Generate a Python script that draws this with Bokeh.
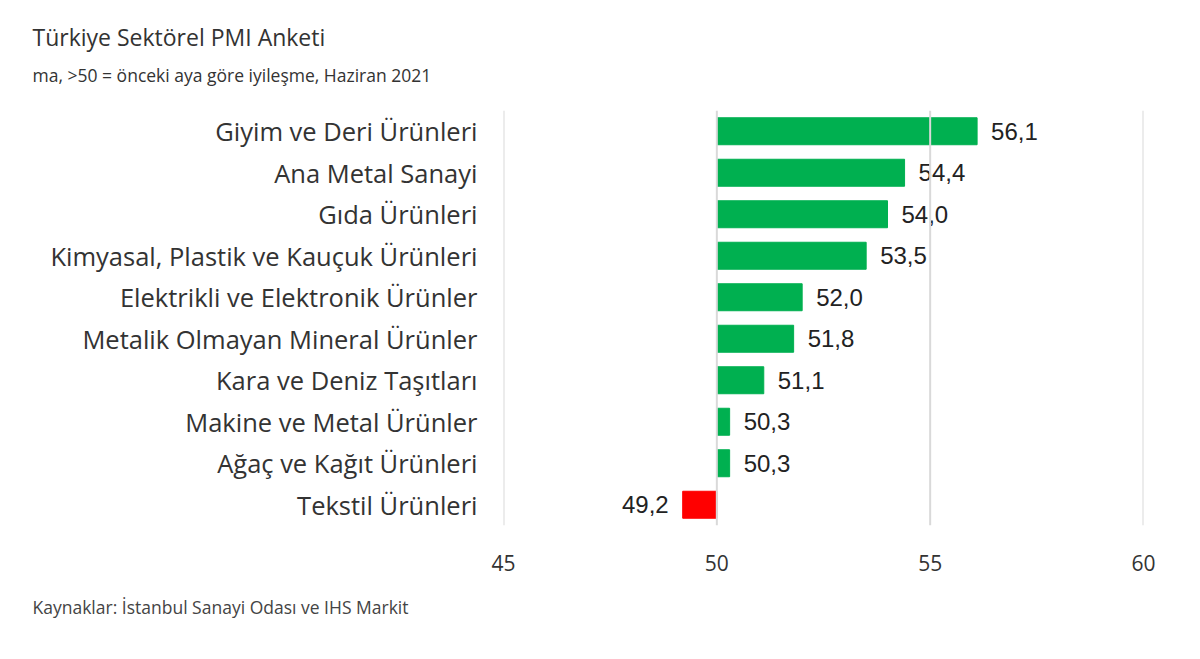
from bokeh.plotting import figure
from bokeh.models import ColumnDataSource, FixedTicker, Title, FactorRange, Range1d, Span
from bokeh.core.properties import value
from bokeh.embed import file_html
from bokeh.resources import INLINE

categories = [
    "Giyim ve Deri Ürünleri",
    "Ana Metal Sanayi",
    "Gıda Ürünleri",
    "Kimyasal, Plastik ve Kauçuk Ürünleri",
    "Elektrikli ve Elektronik Ürünler",
    "Metalik Olmayan Mineral Ürünler",
    "Kara ve Deniz Taşıtları",
    "Makine ve Metal Ürünler",
    "Ağaç ve Kağıt Ürünleri",
    "Tekstil Ürünleri",
]
values = [56.1, 54.4, 54.0, 53.5, 52.0, 51.8, 51.1, 50.3, 50.3, 49.2]
x_ticks = [45, 50, 55, 60]
baseline = 50

title = "Türkiye Sektörel PMI Anketi"
subtitle = "ma, >50 = önceki aya göre iyileşme, Haziran 2021"
source_note = "Kaynaklar: İstanbul Sanayi Odası ve IHS Markit"

colors = ["#00B050" if v >= baseline else "#FF0000" for v in values]
labels = [f"{v:.1f}".replace(".", ",") for v in values]
aligns = ["left" if v >= baseline else "right" for v in values]
offsets = [14 if v >= baseline else -14 for v in values]

src = ColumnDataSource(dict(cat=categories, val=values, color=colors,
                            label=labels, align=aligns, xoff=offsets))

p = figure(width=1184, height=643, output_backend="svg", toolbar_location=None,
           y_range=FactorRange(*categories[::-1]), x_range=Range1d(45, 60),
           min_border_left=503, min_border_right=41, min_border_top=110,
           min_border_bottom=118)
p.outline_line_color = None
p.background_fill_color = "white"
p.xgrid.grid_line_color = None
p.ygrid.grid_line_color = None

for t in x_ticks:
    p.add_layout(Span(location=t, dimension="height", line_color="#d9d9d9", line_width=2))

p.hbar(y="cat", left=baseline, right="val", height=0.65, color="color", source=src)
p.text(x="val", y="cat", text="label", x_offset="xoff", text_align="align",
       text_baseline="middle", text_font=value("Liberation Sans"),
       text_font_size="24px", text_color="#222222", source=src)

p.xaxis.ticker = FixedTicker(ticks=x_ticks)

for ax in (p.xaxis, p.yaxis):
    ax.axis_line_color = None
    ax.major_tick_line_color = None
    ax.minor_tick_line_color = None
    ax.major_tick_out = 0
    ax.major_label_text_color = "#333333"
    ax.major_label_text_font = "Open Sans"
p.xaxis.major_label_text_font_size = "21px"
p.xaxis.major_label_standoff = 29
p.yaxis.major_label_text_font_size = "25.5px"
p.yaxis.major_label_standoff = 26

# empty spacer panel between the frame and the subtitle
p.add_layout(Title(text=" ", align="left", standoff=13, text_font_size="1px"), "above")
p.add_layout(Title(text=subtitle, align="left", offset=-471, standoff=12, vertical_align="top",
                   text_font="Open Sans", text_font_size="17.5px", text_font_style="normal",
                   text_color="#333333"), "above")
p.add_layout(Title(text=title, align="left", offset=-471, standoff=8,
                   text_font="Open Sans", text_font_size="23px", text_font_style="normal",
                   text_color="#333333"), "above")
p.add_layout(Title(text=source_note, align="left", offset=-471, standoff=38,
                   text_font="Open Sans", text_font_size="17.5px", text_font_style="normal",
                   text_color="#444444"), "below")

open("out.html", "w").write(file_html(p, INLINE))
